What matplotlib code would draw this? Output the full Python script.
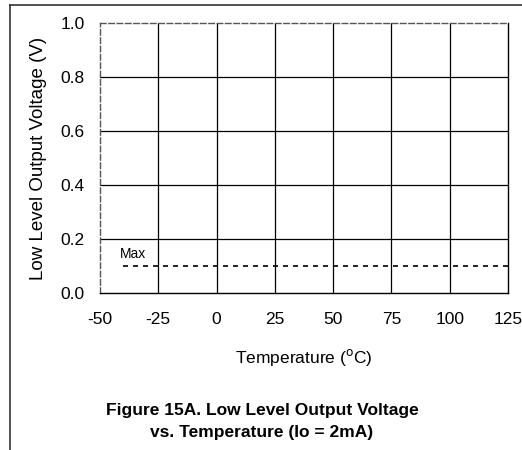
import matplotlib
matplotlib.use("Agg")
import matplotlib.pyplot as plt
from matplotlib.lines import Line2D

plt.rcParams['font.family'] = ['Liberation Sans', 'DejaVu Sans']
plt.rcParams['axes.unicode_minus'] = False

# chart data
temp_ticks = [-50, -25, 0, 25, 50, 75, 100, 125]
volt_ticks = [0.0, 0.2, 0.4, 0.6, 0.8, 1.0]
max_temp = [-40, 125]
max_volt = [0.1, 0.1]

fig = plt.figure(figsize=(5.22, 4.5), dpi=100)
ax = fig.add_axes([100/522, 1 - 293/450, 408/522, 270/450])

ax.set_xlim(-50, 125)
ax.set_ylim(0, 1.0)
ax.set_xticks(temp_ticks)
ax.set_yticks(volt_ticks)
ax.set_yticklabels(["%.1f" % v for v in volt_ticks])
ax.tick_params(length=0, labelsize=12.5)
ax.tick_params(axis='x', pad=14)
ax.tick_params(axis='y', pad=11)

# grid
for t in temp_ticks[1:-1]:
    ax.axvline(t, color='black', lw=0.9)
for v in volt_ticks[1:-1]:
    ax.axhline(v, color='black', lw=0.9)

for side in ['left', 'top']:
    ax.spines[side].set_color('#555555')
    ax.spines[side].set_linestyle((0, (4, 2)))
for side in ['right', 'bottom']:
    ax.spines[side].set_color('black')
for s in ax.spines.values():
    s.set_linewidth(1.0)

# max limit line
ax.plot(max_temp, max_volt, color='black', lw=1.2, linestyle=(0, (3, 3)))
ax.text(max_temp[0] - 1.5, 0.12, "Max", fontsize=10, ha='left', va='bottom')

ax.set_xlabel("Temperature ($^{\\mathrm{o}}$C)", fontsize=12.5, labelpad=14)
ax.set_ylabel("Low Level Output Voltage (V)", fontsize=13.5, labelpad=10)

fig.text(262/522, 1 - 410/450, "Figure 15A. Low Level Output Voltage",
         fontsize=12.5, fontweight='bold', ha='center', va='center')
fig.text(262/522, 1 - 432/450, "vs. Temperature (Io = 2mA)",
         fontsize=12.5, fontweight='bold', ha='center', va='center')

# outer frame lines
fig.add_artist(Line2D([10/522, 10/522], [0, 1 - 5/450], color='#333333', lw=1.2, transform=fig.transFigure))
fig.add_artist(Line2D([10/522, 1], [1 - 5/450, 1 - 5/450], color='#333333', lw=1.2, transform=fig.transFigure))

fig.savefig("out.png", dpi=100)
